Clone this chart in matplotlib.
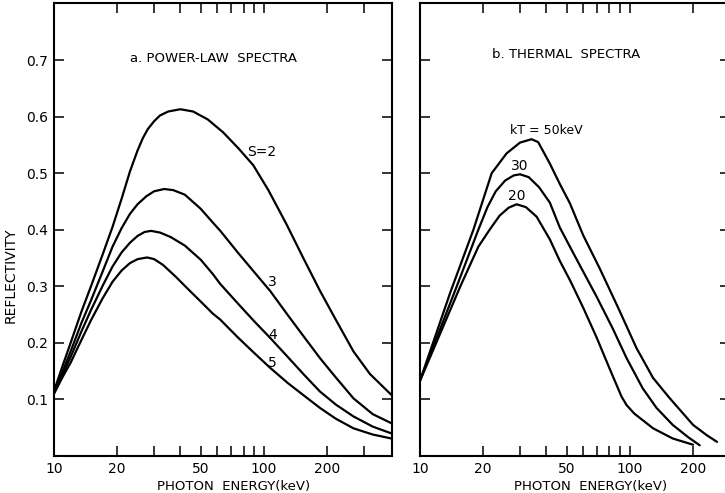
import matplotlib.pyplot as plt
import numpy as np

# panel a: power-law spectra, energy (keV) and reflectivity per index S
e_s2 = [10, 11, 12, 13.5, 15, 17, 19, 21, 23, 25, 26.5, 28, 30, 32, 35, 40, 46, 54, 64, 76, 89, 105, 128, 155, 185, 220, 267, 320, 405]
r_s2 = [0.115, 0.16, 0.20, 0.255, 0.30, 0.355, 0.405, 0.455, 0.503, 0.54, 0.562, 0.578, 0.592, 0.602, 0.609, 0.613, 0.609, 0.595, 0.572, 0.543, 0.514, 0.47, 0.41, 0.348, 0.292, 0.241, 0.185, 0.145, 0.108]

e_s3 = [10, 11, 12, 13.5, 15, 17, 19, 21, 23, 25, 27.5, 30, 33.5, 37, 42, 50, 57, 62, 75, 90, 107, 130, 155, 185, 220, 267, 330, 405]
r_s3 = [0.113, 0.15, 0.185, 0.235, 0.275, 0.325, 0.37, 0.403, 0.428, 0.445, 0.459, 0.468, 0.472, 0.470, 0.462, 0.437, 0.413, 0.398, 0.36, 0.325, 0.292, 0.249, 0.211, 0.173, 0.139, 0.102, 0.074, 0.058]

e_s4 = [10, 11, 12, 13.5, 15, 17, 19, 21, 23, 25, 27, 29, 32, 36, 42, 50, 57, 62, 75, 90, 107, 130, 155, 185, 220, 267, 330, 405]
r_s4 = [0.112, 0.145, 0.175, 0.22, 0.258, 0.30, 0.335, 0.36, 0.377, 0.389, 0.396, 0.398, 0.395, 0.387, 0.372, 0.347, 0.322, 0.304, 0.27, 0.238, 0.209, 0.175, 0.144, 0.114, 0.091, 0.07, 0.052, 0.040]

e_s5 = [10, 11, 12, 13.5, 15, 17, 19, 21, 23, 25, 27.8, 30, 33, 38, 43, 50, 57, 62, 75, 90, 107, 130, 155, 185, 220, 267, 330, 405]
r_s5 = [0.11, 0.14, 0.165, 0.205, 0.24, 0.278, 0.308, 0.328, 0.341, 0.348, 0.351, 0.348, 0.338, 0.317, 0.297, 0.273, 0.252, 0.241, 0.21, 0.182, 0.156, 0.129, 0.107, 0.085, 0.066, 0.049, 0.038, 0.031]

# panel b: thermal spectra per temperature kT
e_t50 = [10, 14, 18, 22, 25.9, 30, 34, 36.6, 41.6, 46.4, 51.8, 60, 72, 88, 107.5, 129, 155, 200, 232, 260]
r_t50 = [0.132, 0.29, 0.40, 0.50, 0.535, 0.554, 0.56, 0.555, 0.517, 0.481, 0.447, 0.39, 0.331, 0.262, 0.191, 0.138, 0.102, 0.055, 0.037, 0.025]

e_t30 = [10, 15, 19, 21, 23, 25.5, 28, 30, 33, 37, 41.6, 46.4, 55, 69.4, 83, 96.5, 115, 134, 160, 190, 215]
r_t30 = [0.132, 0.30, 0.40, 0.44, 0.468, 0.487, 0.496, 0.498, 0.493, 0.475, 0.448, 0.404, 0.352, 0.282, 0.225, 0.173, 0.12, 0.085, 0.055, 0.033, 0.019]

e_t20 = [10, 15.6, 19, 21.5, 24, 26.5, 28.9, 32, 36, 41.6, 46.4, 52, 60, 69.4, 80, 91.3, 96.5, 105, 129, 160, 200]
r_t20 = [0.132, 0.30, 0.37, 0.40, 0.425, 0.439, 0.445, 0.440, 0.423, 0.383, 0.345, 0.31, 0.262, 0.21, 0.155, 0.105, 0.09, 0.075, 0.049, 0.031, 0.02]

y_ticks = [0.1, 0.2, 0.3, 0.4, 0.5, 0.6, 0.7]
x_major = [10, 20, 50, 100, 200]
x_minor = [30, 40, 60, 70, 80, 90, 300]

plt.rcParams['font.family'] = ['DejaVu Sans']
fs = 9.5

fig = plt.figure(figsize=(7.25, 4.93), dpi=100)
ax1 = fig.add_axes([0.0745, 0.075, 0.466, 0.918])
ax2 = fig.add_axes([0.579, 0.075, 0.428, 0.918])

for ax, xmax in [(ax1, 407), (ax2, 300)]:
    ax.set_xscale('log')
    ax.set_xlim(10, xmax)
    ax.set_ylim(0, 0.8)
    ax.set_xticks(x_major)
    ax.set_xticklabels([str(v) for v in x_major])
    ax.set_xticks(x_minor, minor=True)
    ax.xaxis.set_minor_formatter(plt.NullFormatter())
    ax.set_yticks(y_ticks)
    ax.tick_params(which='both', direction='in', length=7, width=1.1,
                   top=True, right=True, pad=4, labelsize=10)
    for sp in ax.spines.values():
        sp.set_linewidth(1.5)
    ax.set_xlabel('PHOTON  ENERGY(keV)', fontsize=fs)
    ax.xaxis.set_label_coords(0.53, -0.052)

ax1.set_yticklabels(['%.1f' % v for v in y_ticks])
ax2.set_yticklabels([])
ax1.set_ylabel('REFLECTIVITY', fontsize=fs + 0.5)
ax1.yaxis.set_label_coords(-0.107, 0.40)
ax2.xaxis.set_label_coords(0.55, -0.052)

lw = 1.6
for e, r in [(e_s2, r_s2), (e_s3, r_s3), (e_s4, r_s4), (e_s5, r_s5)]:
    ax1.plot(e, r, color='black', lw=lw, solid_capstyle='round', solid_joinstyle='round')
for e, r in [(e_t50, r_t50), (e_t30, r_t30), (e_t20, r_t20)]:
    ax2.plot(e, r, color='black', lw=lw, solid_capstyle='round', solid_joinstyle='round')

ax1.text(57.8, 0.703, 'a. POWER-LAW  SPECTRA', ha='center', va='center', fontsize=fs)
ax1.text(98, 0.537, 'S=2', ha='center', va='center', fontsize=10)
ax1.text(110, 0.307, '3', ha='center', va='center', fontsize=10)
ax1.text(110, 0.214, '4', ha='center', va='center', fontsize=10)
ax1.text(110, 0.164, '5', ha='center', va='center', fontsize=10)

ax2.text(49.9, 0.709, 'b. THERMAL  SPECTRA', ha='center', va='center', fontsize=fs)
ax2.text(40.1, 0.576, 'kT = 50keV', ha='center', va='center', fontsize=9)
ax2.text(30, 0.513, '30', ha='center', va='center', fontsize=10)
ax2.text(28.9, 0.459, '20', ha='center', va='center', fontsize=10)

fig.savefig('out.png', dpi=100)
